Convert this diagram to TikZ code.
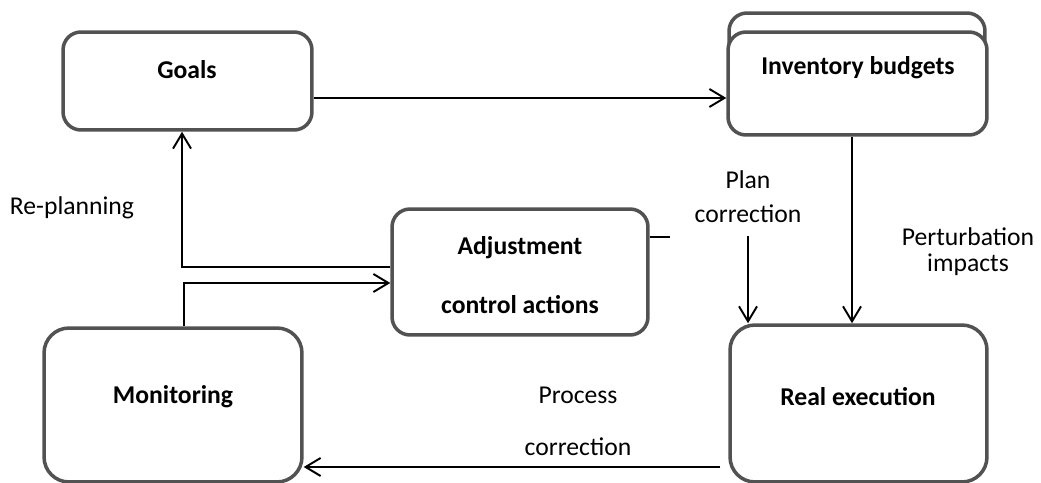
\documentclass[tikz,border=0pt]{standalone}
\usepackage{fontspec}
\setmainfont{Carlito}
\usetikzlibrary{arrows.meta}
\definecolor{boxgray}{RGB}{82,82,82}
\newcommand{\flowfont}{\fontsize{14.6}{17.5}\selectfont}
\tikzset{
  box/.style={draw=boxgray,line width=2pt,fill=white,rounded corners=0.36cm,inner sep=0pt},
  bigbox/.style={box,rounded corners=0.5cm},
  boxtext/.style={font=\flowfont\bfseries,inner sep=0pt},
  flowtext/.style={align=center,inner sep=0pt},
  conn/.style={line width=1.1pt,-{Straight Barb[length=0.3cm,width=0.36cm]}},
}
\begin{document}
\begin{tikzpicture}[x=0.02cm,y=-0.02cm,font=\flowfont]
	   \useasboundingbox (0,0) rectangle (1041,483);
	   % boxes
	   \node [box,minimum width=4.98cm,minimum height=1.96cm] (goals) at (187.5,81) {};
	   \node [box,minimum width=5.12cm,minimum height=1.94cm] (invback) at (857,61.5) {};
	   \node [box,minimum width=5.18cm,minimum height=2.06cm] (inv) at (857.5,83.5) {};
	   \node [box,minimum width=5.12cm,minimum height=2.52cm] (adj) at (520,272) {};
	   \node [bigbox,minimum width=5.16cm,minimum height=3.08cm] (mon) at (173,405) {};
	   \node [bigbox,minimum width=5.14cm,minimum height=3.14cm] (real) at (858.5,403.5) {};
	   % box texts
	   \node [boxtext] (goals-t) at (187,70) {Goals};
	   \node [boxtext] (inv-t) at (858,68) {Inventory budgets};
	   \node [boxtext,align=center,font=\fontsize{14.6}{34}\selectfont\bfseries] (adj-t) at (520,275) {Adjustment\\control actions};
	   \node [boxtext] (mon-t) at (173,397) {Monitoring};
	   \node [boxtext] (real-t) at (858,397) {Real execution};
	   % flow labels
	   \node [flowtext] (replan) at (72,208) {Re-planning};
	   \node [flowtext,font=\fontsize{14.6}{19.3}\selectfont] (plancorr) at (748,197) {Plan\\correction};
	   \node [flowtext,font=\fontsize{14.6}{14.8}\selectfont] (perturb) at (968,252) {Perturbation\\impacts};
	   \node [flowtext,font=\fontsize{14.6}{29.6}\selectfont] (proccorr) at (578,421) {Process\\correction};
	   % connectors
	   \draw [conn] ([yshift=-0.34cm]goals.east) -- ([yshift=-0.34cm]goals.east -| inv.west);
	   \draw [conn] ([xshift=-0.11cm]inv.south) -- ([xshift=-0.11cm]inv.south |- real.north);
	   \draw [conn] ([yshift=-0.25cm]plancorr.south) -- (plancorr.south |- real.north);
	   \draw [line width=1pt] ([yshift=0.7cm]adj.east) -- ++(20,0);
	   \draw [conn] ([yshift=0.1cm]adj.west) -| ([xshift=-0.11cm]goals.south);
	   \draw [conn] ([xshift=0.22cm]mon.north) |- ([yshift=-0.22cm]adj.west);
	   \draw [conn,shorten <=0.16cm] ([yshift=-1.27cm]real.west) -- ([yshift=-1.27cm]real.west -| mon.east);
\end{tikzpicture}
\end{document}
